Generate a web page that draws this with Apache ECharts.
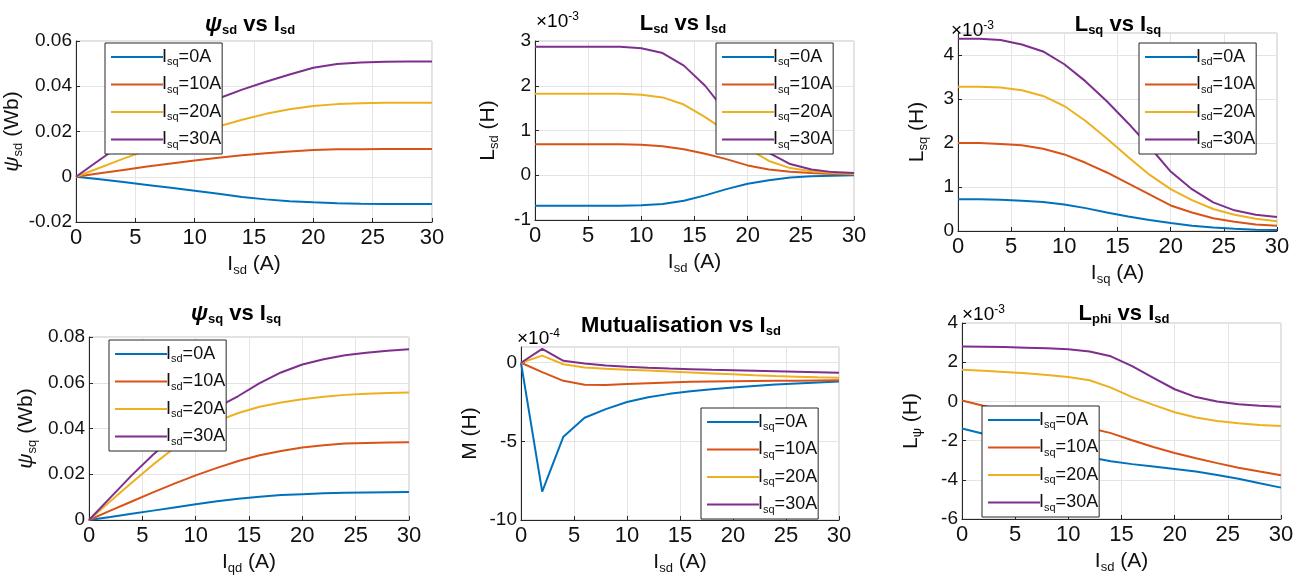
<!DOCTYPE html>
<html>
<head>
<meta charset="utf-8">
<script src="https://cdn.jsdelivr.net/npm/echarts@6/dist/echarts.min.js"></script>
<style>
html,body{margin:0;padding:0;background:#fff;}
#chart{width:1304px;height:576px;}
</style>
</head>
<body>
<div id="chart"></div>
<script>
// ---------- DATA ----------
const current = [0, 2, 4, 6, 8, 10, 12, 14, 16, 18, 20, 22, 24, 26, 28, 30];
const xTicks = [0, 5, 10, 15, 20, 25, 30];

const namesSq = ['Isq=0A', 'Isq=10A', 'Isq=20A', 'Isq=30A'];
const namesSd = ['Isd=0A', 'Isd=10A', 'Isd=20A', 'Isd=30A'];

// psi_sd vs I_sd (Wb)
const psiSd0  = [0, -0.0011, -0.0023, -0.0036, -0.0049, -0.0062, -0.0075, -0.0089, -0.0100, -0.0108, -0.0113, -0.0117, -0.0119, -0.0120, -0.0120, -0.0120];
const psiSd10 = [0, 0.0015, 0.0030, 0.0045, 0.0059, 0.0072, 0.0084, 0.0095, 0.0104, 0.0112, 0.0118, 0.0121, 0.0122, 0.0123, 0.0123, 0.0123];
const psiSd20 = [0, 0.0040, 0.0080, 0.0118, 0.0155, 0.0190, 0.0222, 0.0252, 0.0278, 0.0298, 0.0313, 0.0321, 0.0325, 0.0327, 0.0327, 0.0327];
const psiSd30 = [0, 0.0075, 0.0148, 0.0210, 0.0265, 0.0310, 0.0346, 0.0385, 0.0420, 0.0452, 0.0482, 0.0498, 0.0505, 0.0508, 0.0509, 0.0509];

// L_sd vs I_sd (x1e-3 H)
const lSd0  = [-0.68, -0.68, -0.68, -0.68, -0.68, -0.67, -0.64, -0.57, -0.45, -0.31, -0.19, -0.11, -0.05, -0.02, -0.01, 0.00];
const lSd10 = [0.69, 0.69, 0.69, 0.69, 0.69, 0.68, 0.65, 0.58, 0.48, 0.36, 0.22, 0.13, 0.08, 0.05, 0.03, 0.02];
const lSd20 = [1.82, 1.82, 1.82, 1.82, 1.82, 1.80, 1.74, 1.58, 1.30, 0.98, 0.60, 0.32, 0.16, 0.09, 0.05, 0.03];
const lSd30 = [2.87, 2.87, 2.87, 2.87, 2.87, 2.84, 2.73, 2.45, 2.00, 1.40, 0.85, 0.50, 0.25, 0.13, 0.07, 0.05];

// L_sq vs I_sq (x1e-3 H)
const lSq0  = [0.72, 0.72, 0.71, 0.69, 0.66, 0.60, 0.52, 0.42, 0.33, 0.25, 0.18, 0.12, 0.08, 0.05, 0.03, 0.02];
const lSq10 = [2.00, 2.00, 1.98, 1.95, 1.87, 1.74, 1.55, 1.33, 1.08, 0.83, 0.58, 0.42, 0.29, 0.21, 0.15, 0.12];
const lSq20 = [3.28, 3.28, 3.26, 3.20, 3.07, 2.84, 2.50, 2.10, 1.68, 1.28, 0.95, 0.70, 0.50, 0.37, 0.28, 0.22];
const lSq30 = [4.37, 4.37, 4.34, 4.24, 4.08, 3.79, 3.40, 2.95, 2.45, 1.92, 1.35, 0.95, 0.65, 0.47, 0.37, 0.32];

// psi_sq vs I_sq (Wb)
const psiSq0  = [0, 0.0013, 0.0027, 0.0041, 0.0055, 0.0069, 0.0082, 0.0093, 0.0102, 0.0109, 0.0113, 0.0117, 0.0119, 0.0120, 0.0121, 0.0122];
const psiSq10 = [0, 0.0041, 0.0081, 0.0121, 0.0159, 0.0195, 0.0228, 0.0258, 0.0283, 0.0302, 0.0317, 0.0327, 0.0334, 0.0337, 0.0339, 0.0340];
const psiSq20 = [0, 0.0082, 0.0163, 0.0242, 0.0315, 0.0382, 0.0432, 0.0468, 0.0495, 0.0514, 0.0528, 0.0539, 0.0547, 0.0552, 0.0555, 0.0557];
const psiSq30 = [0, 0.0098, 0.0195, 0.0285, 0.0365, 0.0435, 0.0492, 0.0542, 0.0598, 0.0645, 0.0680, 0.0703, 0.0720, 0.0731, 0.0740, 0.0746];

// Mutualisation vs I_sd (x1e-4 H)
const mut0  = [0, -8.2, -4.7, -3.5, -2.95, -2.5, -2.2, -1.98, -1.82, -1.68, -1.58, -1.48, -1.39, -1.32, -1.25, -1.19];
const mut10 = [0, -0.6, -1.15, -1.4, -1.42, -1.36, -1.3, -1.25, -1.21, -1.19, -1.17, -1.16, -1.15, -1.14, -1.13, -1.12];
const mut20 = [0, 0.45, -0.1, -0.3, -0.38, -0.44, -0.5, -0.56, -0.62, -0.68, -0.74, -0.8, -0.85, -0.89, -0.93, -0.96];
const mut30 = [0, 0.88, 0.12, -0.05, -0.17, -0.26, -0.32, -0.37, -0.41, -0.45, -0.48, -0.51, -0.54, -0.57, -0.6, -0.63];

// L_phi vs I_sd (x1e-3 H)
const lPhi0  = [-1.38, -1.65, -1.90, -2.15, -2.40, -2.62, -2.85, -3.05, -3.20, -3.32, -3.45, -3.58, -3.75, -3.95, -4.18, -4.40];
const lPhi10 = [0.05, -0.22, -0.48, -0.72, -0.95, -1.15, -1.36, -1.62, -1.98, -2.33, -2.63, -2.90, -3.15, -3.38, -3.58, -3.77];
const lPhi20 = [1.62, 1.56, 1.50, 1.43, 1.35, 1.25, 1.08, 0.70, 0.22, -0.18, -0.55, -0.82, -1.00, -1.12, -1.20, -1.26];
const lPhi30 = [2.80, 2.79, 2.77, 2.74, 2.71, 2.66, 2.55, 2.30, 1.80, 1.20, 0.62, 0.22, 0.00, -0.14, -0.22, -0.27];

// ---------- STYLE / LAYOUT ----------
const FONT = 'Liberation Sans, Arial, Helvetica, sans-serif';
const colors = ['#0072BD', '#D95319', '#EDB120', '#7E2F8E'];
const TXT = '#111';

const panels = [
  { grid: {left: 76, top: 41, width: 356, height: 181}, y: {min: -0.02, max: 0.06, interval: 0.02},
    names: namesSq, data: [psiSd0, psiSd10, psiSd20, psiSd30],
    title: '{gb|ψ}{sb|sd}{b| vs I}{sb|sd}', tx: 250, ty: 12,
    xname: '{n|I}{s|sd}{n| (A)}', yname: '{g|ψ}{s|sd}{n| (Wb)}', ygap: 42,
    legend: {left: 105, top: 43}, exp: null },
  { grid: {left: 535, top: 41, width: 319, height: 179}, y: {min: -1, max: 3, interval: 1},
    names: namesSq, data: [lSd0, lSd10, lSd20, lSd30],
    title: '{b|L}{sb|sd}{b| vs I}{sb|sd}', tx: 683, ty: 11,
    xname: '{n|I}{s|sd}{n| (A)}', yname: '{n|L}{s|sd}{n| (H)}', ygap: 34,
    legend: {left: 716, top: 43}, exp: {text: '×10{sup|-3}', x: 536, y: 11} },
  { grid: {left: 958, top: 33, width: 319, height: 198}, y: {min: 0, max: 4.5, interval: 1},
    names: namesSd, data: [lSq0, lSq10, lSq20, lSq30],
    title: '{b|L}{sb|sq}{b| vs I}{sb|sq}', tx: 1118, ty: 12,
    xname: '{n|I}{s|sq}{n| (A)}', yname: '{n|L}{s|sq}{n| (H)}', ygap: 28,
    legend: {left: 1139, top: 43}, exp: {text: '×10{sup|-3}', x: 951, y: 20} },
  { grid: {left: 89, top: 337, width: 320, height: 183}, y: {min: 0, max: 0.08, interval: 0.02},
    names: namesSd, data: [psiSq0, psiSq10, psiSq20, psiSq30],
    title: '{gb|ψ}{sb|sq}{b| vs I}{sb|sq}', tx: 236, ty: 301,
    xname: '{n|I}{s|qd}{n| (A)}', yname: '{g|ψ}{s|sq}{n| (Wb)}', ygap: 50,
    legend: {left: 109, top: 340}, exp: null },
  { grid: {left: 521, top: 347, width: 318, height: 173}, y: {min: -10, max: 1, interval: 5},
    names: namesSq, data: [mut0, mut10, mut20, mut30],
    title: '{b|Mutualisation vs I}{sb|sd}', tx: 681, ty: 313,
    xname: '{n|I}{s|sd}{n| (A)}', yname: '{n|M (H)}', ygap: 40,
    legend: {left: 701, top: 408}, exp: {text: '×10{sup|-4}', x: 517, y: 328} },
  { grid: {left: 962, top: 323, width: 319, height: 196}, y: {min: -6, max: 4, interval: 2},
    names: namesSq, data: [lPhi0, lPhi10, lPhi20, lPhi30],
    title: '{b|L}{sb|phi}{b| vs I}{sb|sd}', tx: 1124, ty: 301,
    xname: '{n|I}{s|sd}{n| (A)}', yname: '{n|L}{s|ψ}{n| (H)}', ygap: 38,
    legend: {left: 982, top: 406}, exp: {text: '×10{sup|-3}', x: 962, y: 304} }
];

const nameRich = {
  n: {fontSize: 21, fontFamily: FONT, color: TXT},
  g: {fontSize: 21, fontFamily: FONT, color: TXT, fontStyle: 'italic'},
  s: {fontSize: 13, fontFamily: FONT, color: TXT, padding: [12, 0, 0, 0]}
};
const titleRich = {
  b: {fontSize: 22, fontWeight: 'bold', fontFamily: FONT, color: '#000'},
  gb: {fontSize: 22, fontWeight: 'bold', fontStyle: 'italic', fontFamily: FONT, color: '#000'},
  sb: {fontSize: 13, fontWeight: 'bold', fontFamily: FONT, color: '#000', padding: [12, 0, 0, 0]}
};
const expRich = {
  e: {fontSize: 19, fontFamily: FONT, color: TXT},
  sup: {fontSize: 12, fontFamily: FONT, color: TXT, padding: [0, 0, 10, 0]}
};
const legendRich = {
  n: {fontSize: 18, fontFamily: FONT, color: TXT},
  s: {fontSize: 11, fontFamily: FONT, color: TXT, padding: [10, 0, 0, 0]}
};

function legendFmt(name) {
  const m = name.match(/^I(s[dq])(=.*)$/);
  return '{n|I}{s|' + m[1] + '}{n|' + m[2] + '}';
}

const grids = [], xAxes = [], yAxes = [], series = [], legends = [], graphics = [];

panels.forEach((p, i) => {
  grids.push(Object.assign({show: true, borderColor: '#c4c4c4', borderWidth: 1, backgroundColor: '#fff', containLabel: false}, p.grid));
  xAxes.push({
    type: 'value', gridIndex: i, min: xTicks[0], max: xTicks[xTicks.length - 1], interval: xTicks[1] - xTicks[0],
    axisLine: {show: true, onZero: false, lineStyle: {color: '#262626', width: 1}},
    axisTick: {show: true, inside: true, length: 4, lineStyle: {color: '#262626'}},
    axisLabel: {fontSize: 22, color: TXT, fontFamily: FONT, margin: 5},
    splitLine: {show: true, lineStyle: {color: '#e4e4e4', width: 1}},
    name: p.xname, nameLocation: 'middle', nameGap: 30,
    nameTextStyle: {rich: nameRich}
  });
  yAxes.push({
    type: 'value', gridIndex: i, min: p.y.min, max: p.y.max, interval: p.y.interval,
    axisLine: {show: true, onZero: false, lineStyle: {color: '#262626', width: 1}},
    axisTick: {show: true, inside: true, length: 4, lineStyle: {color: '#262626'}},
    axisLabel: {fontSize: 19, color: TXT, fontFamily: FONT, margin: 4, showMaxLabel: (p.y.max - p.y.min) % p.y.interval === 0},
    splitLine: {show: true, lineStyle: {color: '#e4e4e4', width: 1}},
    name: p.yname, nameLocation: 'middle', nameGap: p.ygap, nameRotate: 90,
    nameTextStyle: {rich: nameRich}
  });
  p.data.forEach((arr, k) => {
    series.push({
      type: 'line', name: p.names[k], xAxisIndex: i, yAxisIndex: i,
      data: current.map((x, j) => [x, arr[j]]),
      symbol: 'none', smooth: false,
      lineStyle: {color: colors[k], width: 2}, itemStyle: {color: colors[k]},
      z: 2
    });
  });
  legends.push({
    orient: 'vertical', left: p.legend.left, top: p.legend.top,
    data: p.names, selectedMode: false,
    backgroundColor: '#fff', borderColor: '#262626', borderWidth: 1,
    padding: [5, 1, 4, 5], itemGap: 8, itemWidth: 52, itemHeight: 14,
    itemStyle: {opacity: 0},
    lineStyle: {width: 2},
    formatter: legendFmt,
    textStyle: {rich: legendRich, padding: [0, 0, 0, -6]}
  });
  graphics.push({
    type: 'text', x: p.tx, y: p.ty, z: 10,
    style: {text: p.title, rich: titleRich, align: 'center', verticalAlign: 'top', font: 'bold 22px ' + FONT}
  });
  if (p.exp) {
    graphics.push({
      type: 'text', x: p.exp.x, y: p.exp.y, z: 10,
      style: {text: p.exp.text.replace('×10', '{e|×10}'), rich: expRich, align: 'left', verticalAlign: 'top'}
    });
  }
});

const chart = echarts.init(document.getElementById('chart'), null, {renderer: 'canvas'});
chart.setOption({
  animation: false,
  backgroundColor: '#fff',
  color: colors,
  textStyle: {fontFamily: FONT},
  grid: grids,
  xAxis: xAxes,
  yAxis: yAxes,
  legend: legends,
  series: series,
  graphic: graphics
});
</script>
</body>
</html>
